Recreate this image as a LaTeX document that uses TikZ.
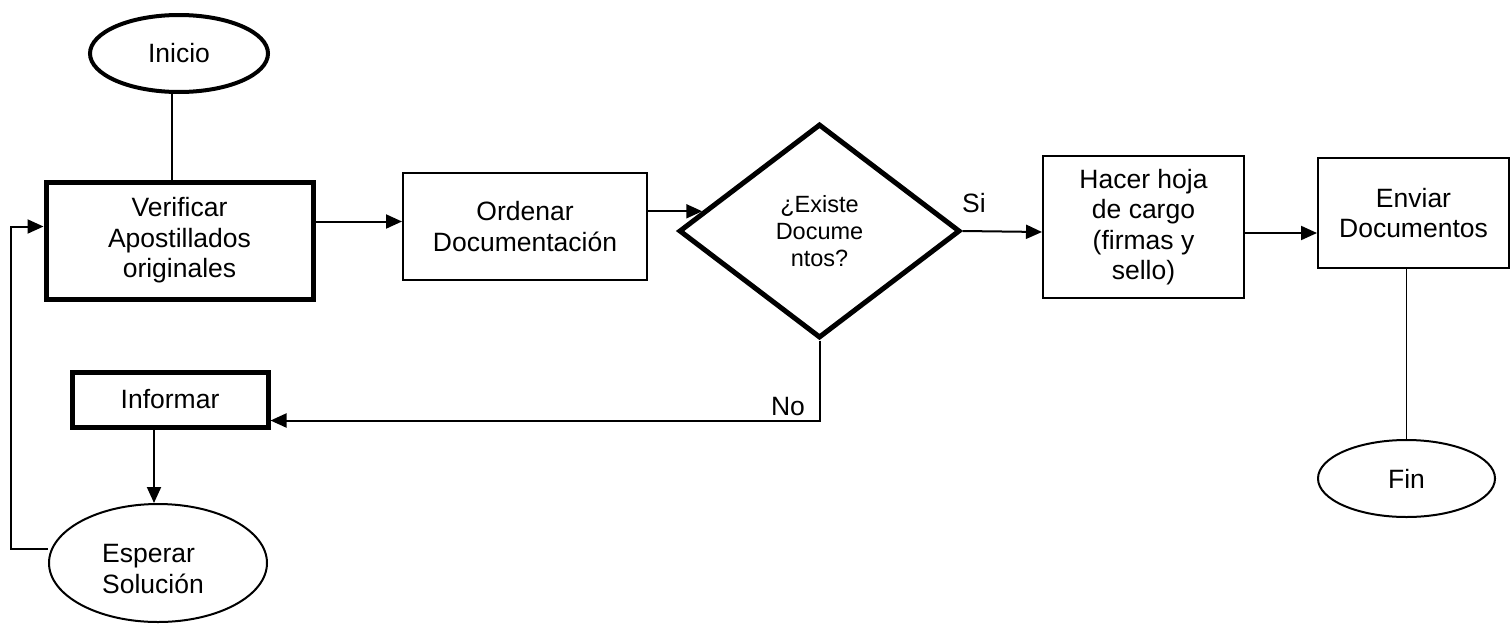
\documentclass[tikz,border=0pt]{standalone}
\usepackage{fontspec}
\setmainfont{Liberation Sans}
\usetikzlibrary{shapes.geometric,arrows.meta,calc}
\begin{document}
\begin{tikzpicture}[x=1pt,y=-1pt,
  txt/.style={font=\fontsize{26.5}{30.5}\selectfont, align=center},
  boxthin/.style={draw, rectangle, line width=2pt, inner sep=0pt, txt},
  boxthick/.style={draw, rectangle, line width=5pt, inner sep=0pt, txt},
  ovalthin/.style={draw, ellipse, line width=2pt, inner sep=0pt, txt},
  ovalthick/.style={draw, ellipse, line width=4pt, inner sep=0pt, txt},
  decis/.style={draw, diamond, line width=5pt, inner sep=0pt, aspect=1.31, align=center, font=\fontsize{23.5}{27}\selectfont},
  conn/.style={line width=2pt},
  arr/.style={line width=2pt, -{Triangle[length=16pt,width=14pt]}},
  lbl/.style={font=\fontsize{26.5}{30}\selectfont}
]
\useasboundingbox (0,0) rectangle (1511,624);

\node[ovalthick, minimum width=178pt, minimum height=77pt] (inicio) at (179,53.5) {Inicio};
\node[boxthick, minimum width=267pt, minimum height=117pt] (verif) at (179.5,240.5) {Verificar\\Apostillados\\originales};
\node[boxthin, minimum width=244pt, minimum height=107pt] (orden) at (525,226.5) {Ordenar\\Documentación};
\node[decis, minimum width=281pt, minimum height=214pt] (dec) at (819.5,231) {¿Existe\\Docume\\ntos?};
\node[boxthin, minimum width=201pt, minimum height=142pt] (hacer) at (1143.5,227) {Hacer hoja\\de cargo\\(firmas y\\sello)};
\node[boxthin, minimum width=191pt, minimum height=110pt] (enviar) at (1413.5,213) {Enviar\\Documentos};
\node[ovalthin, minimum width=177pt, minimum height=77pt] (fin) at (1406.5,478.5) {Fin};
\node[boxthick, minimum width=196pt, minimum height=55pt] (inform) at (170,399.5) {Informar};
\node[ovalthin, minimum width=218pt, minimum height=118pt] (esperar) at (158,563) {};
\node[txt, align=left] (esptxt) at (153,569) {Esperar\\Solución};

\node[lbl] (si) at (974,203) {Si};
\node[lbl] (no) at (788,407) {No};

% connectors
\draw[line width=1.5pt] ([xshift=-7pt]inicio.south) -- ([xshift=-7pt]inicio.south |- verif.north);
\draw[arr] ([yshift=5pt]orden.west -| verif.east) -- ([yshift=5pt]orden.west);
\path (dec.west) -- (dec.north) coordinate[pos=0.18] (decin);
\draw[arr] (orden.east |- decin) -- (decin);
\draw[arr] (dec.east) -- ([yshift=-5pt]hacer.west);
\draw[arr] ([yshift=-6pt]hacer.east) -- ([yshift=-6pt]hacer.east -| enviar.west);
\draw[line width=1.5pt] (fin.north) -- (fin.north |- enviar.south);
\draw[arr] (dec.south) |- ([yshift=-21pt]inform.east);
\draw[arr] ([xshift=-16pt]inform.south) -- ([xshift=-16pt]inform.south |- esperar.north);
\coordinate (fb) at ([yshift=14pt]esperar.west);
\coordinate (loopx) at (11,0);
\draw[arr] (fb) -- (fb -| loopx) |- ([yshift=14pt]verif.west);
\end{tikzpicture}
\end{document}
